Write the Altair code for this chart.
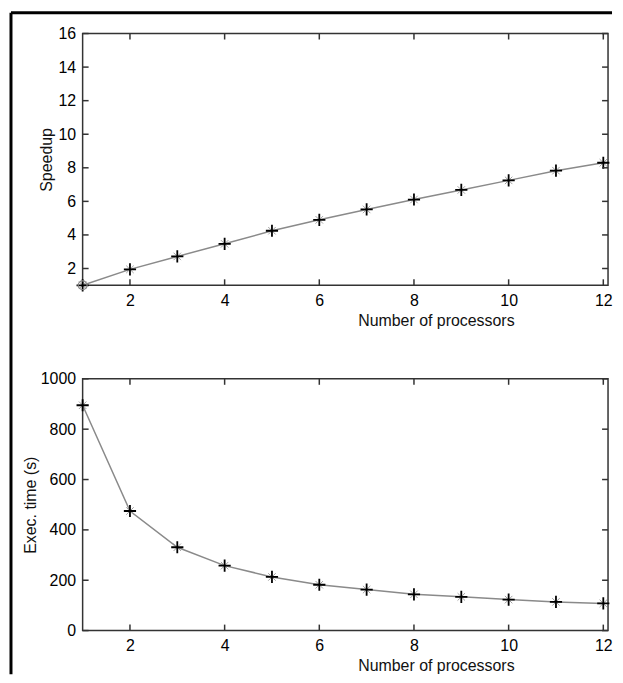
import altair as alt
import pandas as pd

processors = [1, 2, 3, 4, 5, 6, 7, 8, 9, 10, 11, 12]
speedup = [1.0, 1.95, 2.72, 3.47, 4.25, 4.9, 5.52, 6.11, 6.68, 7.25, 7.83, 8.3]
exec_time = [895, 475, 331, 258, 213, 182, 163, 144, 134, 123, 114, 108]
x_ticks = [2, 4, 6, 8, 10, 12]
speedup_ticks = [2, 4, 6, 8, 10, 12, 14, 16]
time_ticks = [0, 200, 400, 600, 800, 1000]

W, H = 528, 253
FONT = "Liberation Sans"
PLUS = "M-1,0L1,0M0,-1L0,1"
STAR = "M-0.75,-0.75L0.75,0.75M-0.75,0.75L0.75,-0.75"
TL = 6

df = pd.DataFrame({"p": processors, "speedup": speedup, "time": exec_time})
xt = pd.DataFrame({"p": x_ticks})


def panel(yfield, ytitle, ydomain, yticks, ytitle_x, border=False, circle_first=False):
    xs = alt.Scale(domain=[1, 12.1], nice=False, zero=False)
    ys = alt.Scale(domain=ydomain, nice=False, zero=False)
    xaxis = alt.Axis(values=x_ticks, title="Number of processors", ticks=False,
                     domain=False, grid=False, labelPadding=7, titleX=355,
                     titleY=35, titleBaseline="middle", titleAlign="center",
                     format="d")
    yaxis = alt.Axis(values=yticks, title=ytitle, ticks=False, domain=False,
                     grid=False, labelPadding=7, titleX=ytitle_x, titleY=H / 2,
                     titleBaseline="middle", titleAlign="center", format="d")
    X = alt.X("p:Q", scale=xs, axis=xaxis)
    Y = alt.Y(f"{yfield}:Q", scale=ys, axis=yaxis)
    base = alt.Chart(df).encode(x=X, y=Y)
    line = base.mark_line(color="#8a8a8a", strokeWidth=1.5)
    star = base.mark_point(shape=STAR, size=100, filled=False, stroke="#a0a0a0",
                           strokeWidth=1, opacity=1)
    plus = base.mark_point(shape=PLUS, size=150, filled=False, stroke="black",
                           strokeWidth=1.8, opacity=1)
    yt = pd.DataFrame({yfield: yticks})
    xb = alt.Chart(xt).mark_rule(color="#333", strokeWidth=1.5).encode(
        x=X, y=alt.value(H), y2=alt.value(H - TL))
    xtop = alt.Chart(xt).mark_rule(color="#333", strokeWidth=1.5).encode(
        x=X, y=alt.value(0), y2=alt.value(TL))
    yl = alt.Chart(yt).mark_rule(color="#333", strokeWidth=1.5).encode(
        y=Y, x=alt.value(0), x2=alt.value(TL))
    yr = alt.Chart(yt).mark_rule(color="#333", strokeWidth=1.5).encode(
        y=Y, x=alt.value(W), x2=alt.value(W - TL))
    layers = [line, star, plus, xb, xtop, yl, yr]
    if circle_first:
        circ = base.transform_filter(alt.datum.p == 1).mark_point(
            shape="circle", size=80, filled=False, stroke="#888", strokeWidth=1.2, opacity=1)
        layers.append(circ)
    if border:
        one = pd.DataFrame({"a": [0]})
        left = alt.Chart(one).mark_rule(color="black", strokeWidth=3).encode(
            x=alt.value(-72), y=alt.value(-21), y2=alt.value(644))
        top = alt.Chart(one).mark_rule(color="black", strokeWidth=3).encode(
            x=alt.value(-72), x2=alt.value(532), y=alt.value(-21))
        layers += [left, top]
    return alt.layer(*layers).properties(width=W, height=H)


top_panel = panel("speedup", "Speedup", [1, 16], speedup_ticks, -36,
                  border=True, circle_first=True)
bottom_panel = panel("time", "Exec. time (s)", [0, 1000], time_ticks, -52)

chart = alt.vconcat(top_panel, bottom_panel, spacing=94, bounds="flush").properties(
    padding={"left": 0, "top": 0, "right": 0, "bottom": 0},
    background="white",
).configure_view(
    stroke="#333", strokeWidth=1.5
).configure_axis(
    labelFont=FONT, titleFont=FONT, labelFontSize=16, titleFontSize=16,
    labelColor="black", titleColor="#111", titleFontWeight="normal",
)

chart.save("out.html", embed_options={"renderer": "svg", "actions": False})
